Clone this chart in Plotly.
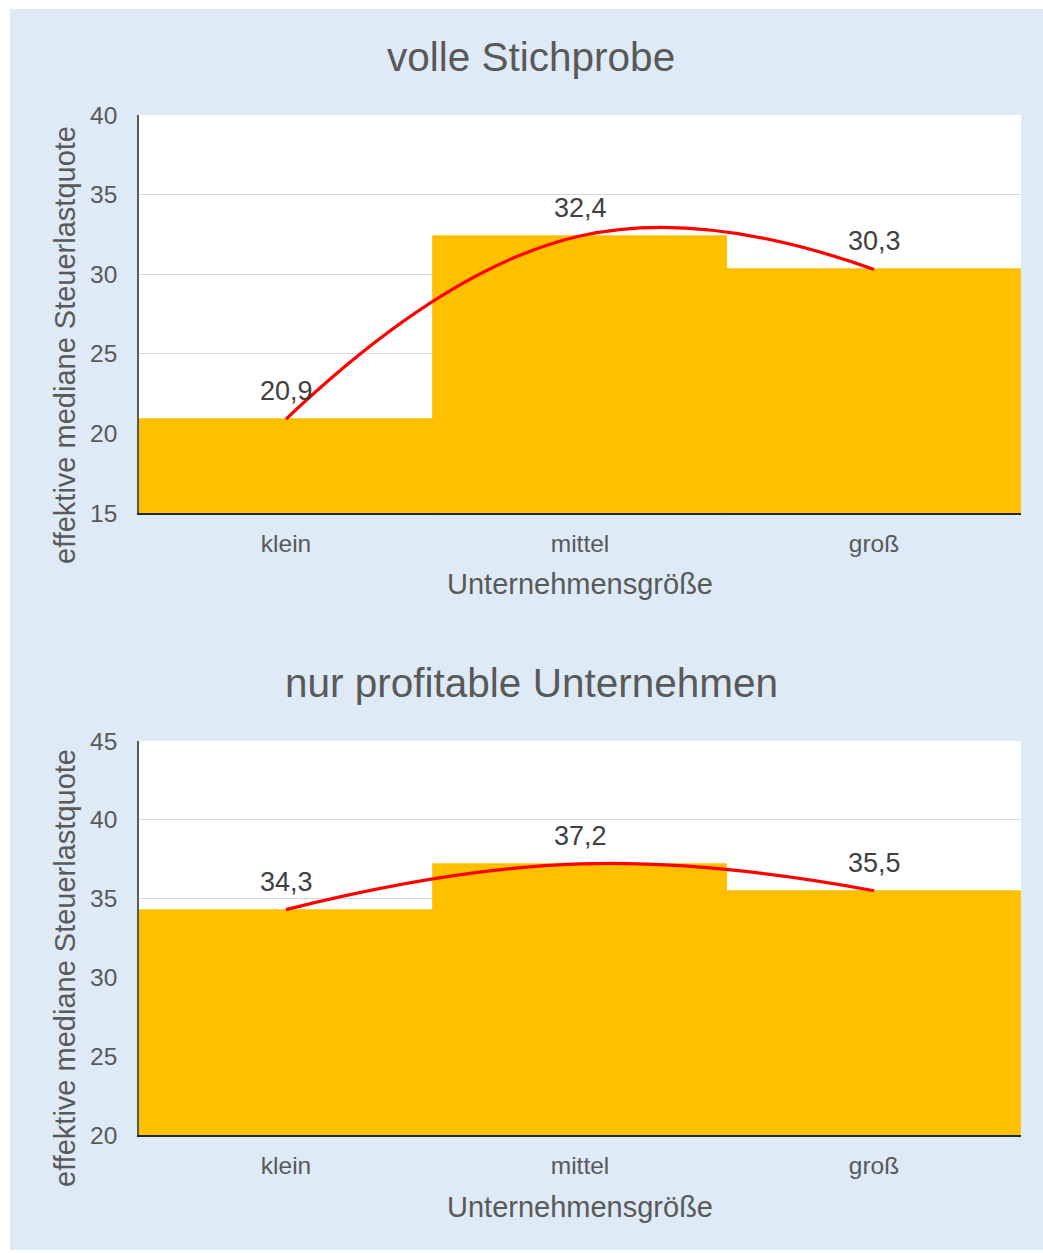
import plotly.graph_objects as go

categories = ["klein", "mittel", "groß"]
values_full = [20.9, 32.4, 30.3]
values_profit = [34.3, 37.2, 35.5]
titles = ["volle Stichprobe", "nur profitable Unternehmen"]
y_title = "effektive mediane Steuerlastquote"
x_title = "Unternehmensgröße"

W, H = 1043, 1253
OFF = 0  # body margin removed by post_script
BG = "#DEEAF6"
ORANGE = "#FFC000"
TXT = "#595959"
FONT = "Liberation Sans, Arial, sans-serif"

def px_x(x):
    return (x - OFF) / W

def px_y(y):
    return (H - (y - OFF)) / H

fig = go.Figure()

panels = [
    dict(vals=values_full, xa="x", ya="y", rng=[15, 40], title_y=57, xt_y=584, yt_y=345),
    dict(vals=values_profit, xa="x2", ya="y2", rng=[20, 45], title_y=683, xt_y=1207, yt_y=968),
]

for i, p in enumerate(panels):
    fig.add_trace(go.Bar(
        x=categories, y=[v - p["rng"][0] for v in p["vals"]], base=p["rng"][0],
        width=1.0, marker=dict(color=ORANGE, line=dict(color="#F2B800", width=0.7)),
        xaxis=p["xa"], yaxis=p["ya"], showlegend=False, hoverinfo="skip",
    ))
    fig.add_trace(go.Scatter(
        x=categories, y=p["vals"], mode="lines",
        line=dict(color="#FF0000", width=3.2, shape="spline", smoothing=1.3),
        xaxis=p["xa"], yaxis=p["ya"], showlegend=False, hoverinfo="skip",
    ))
    for c, v in zip(categories, p["vals"]):
        fig.add_annotation(text=f"{v:.1f}".replace(".", ","), x=c, y=v, xref=p["xa"], yref=p["ya"],
                           yshift=28, showarrow=False, xanchor="center", yanchor="middle",
                           font=dict(size=27, color="#404040", family=FONT))
    fig.add_annotation(text=titles[i], xref="paper", yref="paper", x=px_x(531), y=px_y(p["title_y"]),
                       showarrow=False, font=dict(size=40.5, color=TXT, family=FONT), xanchor="center", yanchor="middle")
    fig.add_annotation(text=y_title, xref="paper", yref="paper", x=px_x(65), y=px_y(p["yt_y"]),
                       showarrow=False, textangle=-90, font=dict(size=29, color=TXT, family=FONT),
                       xanchor="center", yanchor="middle")
    fig.add_annotation(text=x_title, xref="paper", yref="paper", x=px_x(580), y=px_y(p["xt_y"]),
                       showarrow=False, font=dict(size=29, color=TXT, family=FONT), xanchor="center", yanchor="middle")

common_x = dict(domain=[px_x(139), px_x(1021)], range=[-0.5, 2.5], showline=True, linecolor="#262626", linewidth=1.5,
                tickfont=dict(size=24.5, color=TXT, family=FONT), ticks="", ticklabelstandoff=8, showgrid=False,
                automargin=False, fixedrange=True)
common_y = dict(showline=True, linecolor="#595959", linewidth=1.5, gridcolor="#D9D9D9", gridwidth=1,
                tickfont=dict(size=24.5, color=TXT, family=FONT), ticks="", dtick=5, ticklabelstandoff=15,
                zeroline=False, automargin=False, fixedrange=True)

fig.update_layout(
    width=W, height=H, margin=dict(l=0, r=0, t=0, b=0),
    paper_bgcolor=BG, plot_bgcolor="white", bargap=0,
    font=dict(family=FONT, color=TXT),
    xaxis=dict(**common_x, anchor="y"),
    yaxis=dict(**common_y, domain=[px_y(513), px_y(115)], range=panels[0]["rng"], anchor="x"),
    xaxis2=dict(**common_x, anchor="y2"),
    yaxis2=dict(**common_y, domain=[px_y(1135), px_y(741)], range=panels[1]["rng"], anchor="x2"),
    shapes=[
        dict(type="rect", xref="paper", yref="paper", x0=0, x1=px_x(10), y0=0, y1=1,
             fillcolor="white", line=dict(width=0), layer="below"),
        dict(type="rect", xref="paper", yref="paper", x0=0, x1=1, y0=px_y(9), y1=1,
             fillcolor="white", line=dict(width=0), layer="below"),
        dict(type="rect", xref="paper", yref="paper", x0=0, x1=1, y0=0, y1=px_y(1250),
             fillcolor="white", line=dict(width=0), layer="below"),
    ],
)

fig.write_html("out.html", config={"displayModeBar": False},
               post_script="document.body.style.margin='0';document.body.style.overflow='hidden';")
